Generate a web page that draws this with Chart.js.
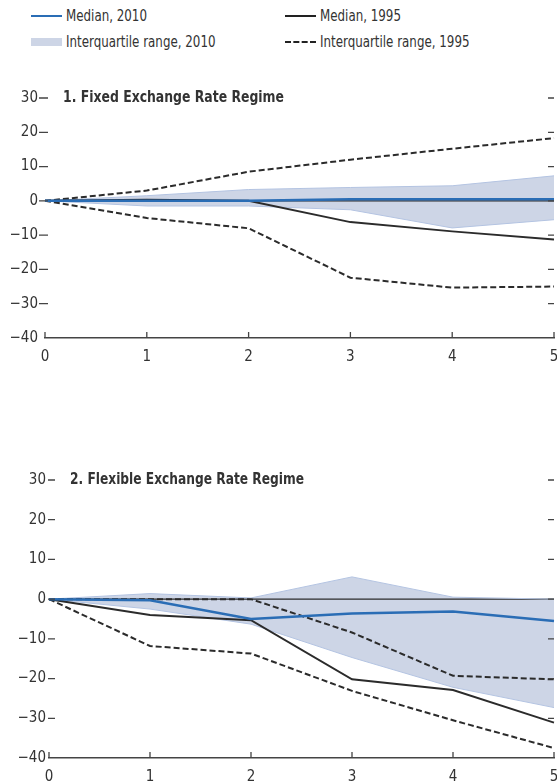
<!DOCTYPE html>
<html>
<head>
<meta charset="utf-8">
<script src="https://cdn.jsdelivr.net/npm/chart.js@4"></script>
<style>
  body { margin: 0; width: 557px; height: 782px; overflow: hidden; background: #fff;
         font-family: 'Liberation Sans Narrow', 'DejaVu Sans Condensed', sans-serif; color: #333; }
  .legend { position: absolute; font-size: 15px; line-height: 16px; white-space: nowrap; }
  .legend .txt { display: inline-block; transform: scaleX(0.88); transform-origin: left center; }
  .legend span.icon { position: absolute; left: -35px; top: 7px; width: 31px; }
  #wrap1 { position: absolute; left: 0; top: 60px; width: 557px; height: 310px; }
  #wrap2 { position: absolute; left: 0; top: 440px; width: 557px; height: 350px; }
</style>
</head>
<body>
<div class="legend" style="left:66px;top:8px"><span class="icon" style="border-top:2.5px solid #2a6db5;top:7px"></span><span class="txt">Median, 2010</span></div>
<div class="legend" style="left:66px;top:34px"><span class="icon" style="height:8px;background:#cdd5e6;top:4px"></span><span class="txt">Interquartile range, 2010</span></div>
<div class="legend" style="left:320px;top:8px"><span class="icon" style="border-top:2.5px solid #222;top:7px"></span><span class="txt">Median, 1995</span></div>
<div class="legend" style="left:320px;top:34px"><span class="icon" style="border-top:2.5px dashed #222;top:7px"></span><span class="txt">Interquartile range, 1995</span></div>

<div id="wrap1"><canvas id="fixedChart"></canvas></div>
<div id="wrap2"><canvas id="flexChart"></canvas></div>

<script>
const years = ['0', '1', '2', '3', '4', '5'];
const yTicks = [30, 20, 10, 0, -10, -20, -30, -40];

// 1. Fixed exchange rate regime
const fixedMedian2010 = [0, 0, 0, 0.5, 0.5, 0.5];
const fixedMedian1995 = [0, 0.3, 0, -6.2, -8.9, -11.3];
const fixedHigh1995 = [0, 3, 8.5, 12, 15.2, 18.3];
const fixedLow1995 = [0, -5, -8, -22.4, -25.3, -25];
const fixedHigh2010 = [0, 1.5, 3.3, 3.9, 4.4, 7.3];
const fixedLow2010 = [0, -1.5, -1.5, -2.6, -7.9, -5.5];

// 2. Flexible exchange rate regime
const flexMedian2010 = [0, -0.3, -5, -3.6, -3.1, -5.5];
const flexMedian1995 = [0, -4, -5.3, -20.2, -22.9, -31.1];
const flexHigh1995 = [0, 0, 0, -8.4, -19.3, -20.2];
const flexLow1995 = [0, -11.8, -13.7, -23.1, -30.5, -37.5];
const flexHigh2010 = [0, 1.4, 0.3, 5.6, 0.5, 0];
const flexLow2010 = [0, -2.5, -6.3, -14.7, -22.2, -27.3];

const BLUE = '#2a6db5';
const DARK = '#2b2b2b';
const SHADE = '#cdd5e6';
const SHADE_EDGE = '#b4c4e2';
const FONT = "'Liberation Sans Narrow', 'DejaVu Sans Condensed', sans-serif";

function fmt(v) {
  return v < 0 ? '\u2212' + Math.abs(v) : String(v);
}

// ticks drawn inside the plot, zero line and panel title
const axisMarks = {
  id: 'axisMarks',
  beforeDatasetsDraw(chart) {
    const { ctx, chartArea, scales: { y } } = chart;
    const py = y.getPixelForValue(0);
    ctx.save();
    ctx.strokeStyle = DARK;
    ctx.lineWidth = 1.4;
    ctx.beginPath();
    ctx.moveTo(chartArea.left, py);
    ctx.lineTo(chartArea.right, py);
    ctx.stroke();
    ctx.restore();
  },
  afterDraw(chart, args, opts) {
    const { ctx, chartArea, scales: { x, y } } = chart;
    ctx.save();
    ctx.strokeStyle = '#444';
    ctx.lineWidth = 1.3;
    ctx.beginPath();
    x.ticks.forEach((t, i) => {
      const px = x.getPixelForTick(i);
      ctx.moveTo(px, chartArea.bottom);
      ctx.lineTo(px, chartArea.bottom - 6);
    });
    yTicks.slice(0, -1).forEach(v => {
      const py = y.getPixelForValue(v);
      ctx.moveTo(chartArea.right - 6, py);
      ctx.lineTo(chartArea.right, py);
      ctx.moveTo(chartArea.left + opts.tickFrom, py);
      ctx.lineTo(chartArea.left + opts.tickTo, py);
    });
    ctx.stroke();
    // condensed title squeezed to the width it has in the original
    ctx.fillStyle = '#333';
    ctx.font = 'bold 16px ' + FONT;
    ctx.textBaseline = 'middle';
    const w = ctx.measureText(opts.title).width;
    const sx = Math.min(1, opts.titleWidth / w);
    ctx.translate(chartArea.left + opts.titleOffset, y.getPixelForValue(30));
    ctx.scale(sx, 1);
    ctx.fillText(opts.title, 0, 0);
    ctx.restore();
  }
};

function buildDatasets(m2010, m1995, hi1995, lo1995, hi2010, lo2010) {
  const dashed = { borderColor: DARK, borderWidth: 2, borderDash: [6, 3] };
  return [
    { label: 'Median, 2010', data: m2010, borderColor: BLUE, borderWidth: 2.5 },
    { label: 'Median, 1995', data: m1995, borderColor: DARK, borderWidth: 2 },
    { label: 'Interquartile range, 1995', data: hi1995, ...dashed },
    { label: 'Interquartile range, 1995', data: lo1995, ...dashed },
    { label: 'Interquartile range, 2010', data: hi2010, borderColor: SHADE_EDGE, borderWidth: 1,
      backgroundColor: SHADE, fill: '+1' },
    { label: 'Interquartile range, 2010', data: lo2010, borderColor: SHADE_EDGE, borderWidth: 1, fill: false }
  ];
}

function createPanel(id, datasets, cfg) {
  return new Chart(document.getElementById(id), {
    type: 'line',
    data: { labels: years, datasets },
    plugins: [axisMarks],
    options: {
      responsive: true,
      maintainAspectRatio: false,
      animation: false,
      layout: { padding: { top: cfg.top, right: 3, left: 0, bottom: 0 } },
      elements: { point: { radius: 0 }, line: { tension: 0 } },
      plugins: {
        legend: { display: false },
        tooltip: { enabled: false },
        filler: { drawTime: 'beforeDatasetsDraw' },
        axisMarks: { title: cfg.title, titleOffset: cfg.titleOffset, titleWidth: cfg.titleWidth,
                     tickFrom: cfg.tickFrom, tickTo: cfg.tickTo }
      },
      scales: {
        x: {
          grid: { display: false, drawTicks: false },
          border: { display: true, color: '#444', width: 1.5 },
          ticks: { color: '#333', padding: 10, maxRotation: 0, font: { family: FONT, size: 15 } },
          afterFit: scale => { scale.height = 32; scale.paddingRight = 0; }
        },
        y: {
          min: -40,
          max: 30,
          afterBuildTicks: scale => { scale.ticks = yTicks.map(v => ({ value: v })); },
          grid: { display: false, drawTicks: false },
          border: { display: false },
          ticks: { color: '#333', padding: cfg.labelPad, font: { family: FONT, size: 15 }, callback: fmt },
          afterFit: scale => { scale.width = cfg.left; }
        }
      }
    }
  });
}

createPanel('fixedChart',
  buildDatasets(fixedMedian2010, fixedMedian1995, fixedHigh1995, fixedLow1995, fixedHigh2010, fixedLow2010),
  { top: 38, left: 45, labelPad: 7, title: '1. Fixed Exchange Rate Regime', titleOffset: 18, titleWidth: 221,
    tickFrom: -6, tickTo: 3 });

createPanel('flexChart',
  buildDatasets(flexMedian2010, flexMedian1995, flexHigh1995, flexLow1995, flexHigh2010, flexLow2010),
  { top: 40, left: 49, labelPad: 3, title: '2. Flexible Exchange Rate Regime', titleOffset: 21, titleWidth: 234,
    tickFrom: -1, tickTo: 6 });
</script>
</body>
</html>
